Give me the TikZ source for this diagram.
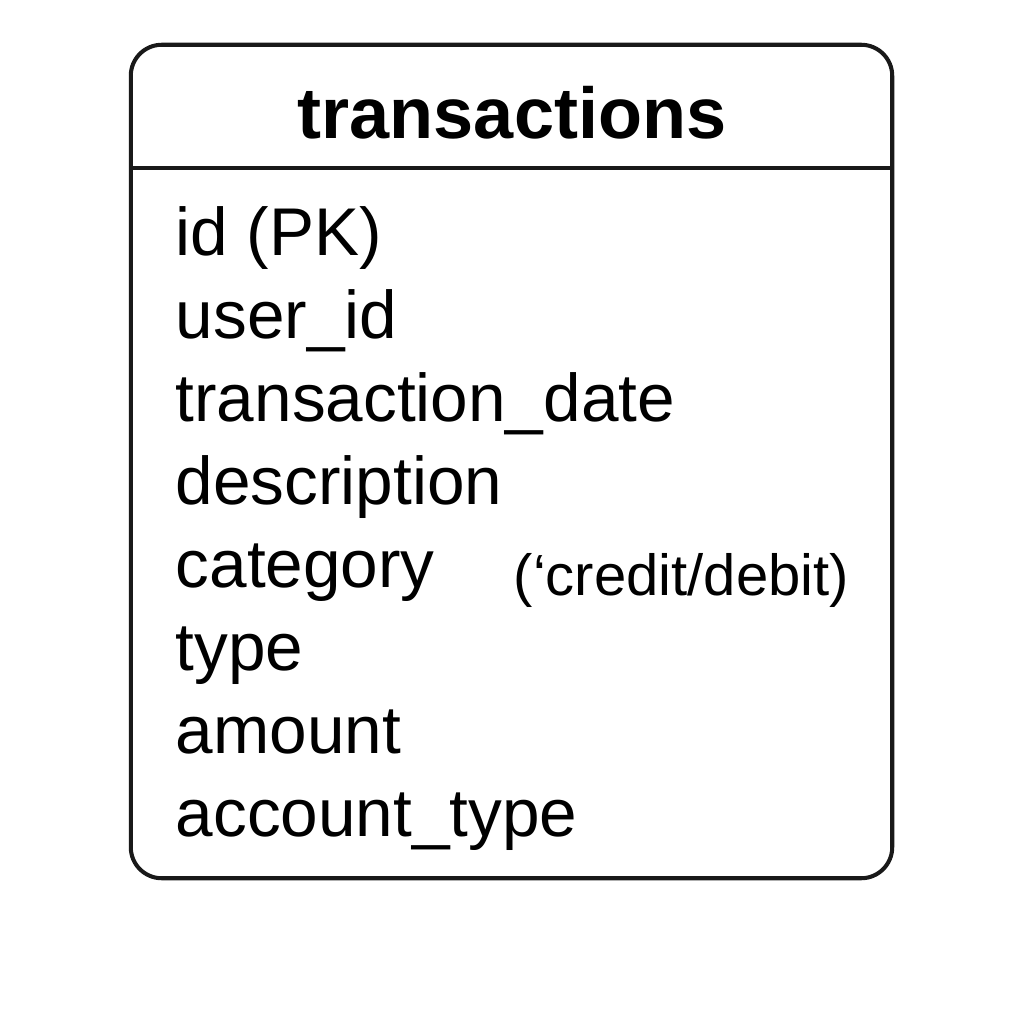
\documentclass[tikz,border=0pt]{standalone}
\usepackage{fontspec}
\setmainfont{Liberation Sans}
\usetikzlibrary{positioning}

\begin{document}
\begin{tikzpicture}[
    x=0.01cm, y=-0.01cm, % 1 unit = 1 px of the reference
    tablebox/.style={
      rectangle,
      rounded corners=0.31cm,
      draw=black!90,
      line width=1.15pt,
      fill=white,
      minimum width=7.61cm,
      minimum height=8.33cm
    },
    rule/.style={
      draw=black!90,
      line width=1.15pt
    },
    titletext/.style={
      font=\fontsize{20.5}{24}\selectfont\bfseries,
      anchor=base,
      inner sep=0pt
    },
    field/.style={
      font=\fontsize{19.2}{23}\selectfont,
      anchor=base west,
      inner sep=0pt
    },
    note/.style={
      field,
      font=\fontsize{16.5}{20}\selectfont
    }
  ]

  \useasboundingbox (0,0) rectangle (1024,1024);

  % Table frame
  \node[tablebox] (table) at (511.5,461.5) {};
  \coordinate (sepL) at (131,168);
  \coordinate (sepR) at (892,168);
  \draw[rule] (sepL) -- (sepR);

  % Header
  \node[titletext] (title) at (512,138) {transactions};

  % Columns
  \node[field] (id) at (175,255) {id (PK)};
  \node[field] (userid) at (175,338) {user\_id};
  \node[field] (txdate) at (175,421) {transaction\_date};
  \node[field] (desc) at (175,504) {description};
  \node[field] (category) at (175,587) {category};
  \node[field] (type) at (175,670) {type};
  \node[field] (amount) at (175,753) {amount};
  \node[field] (acctype) at (175,836) {account\_type};

  % Side note
  \node[note] (kind) at (513,595) {(‘credit/debit)};

\end{tikzpicture}
\end{document}
